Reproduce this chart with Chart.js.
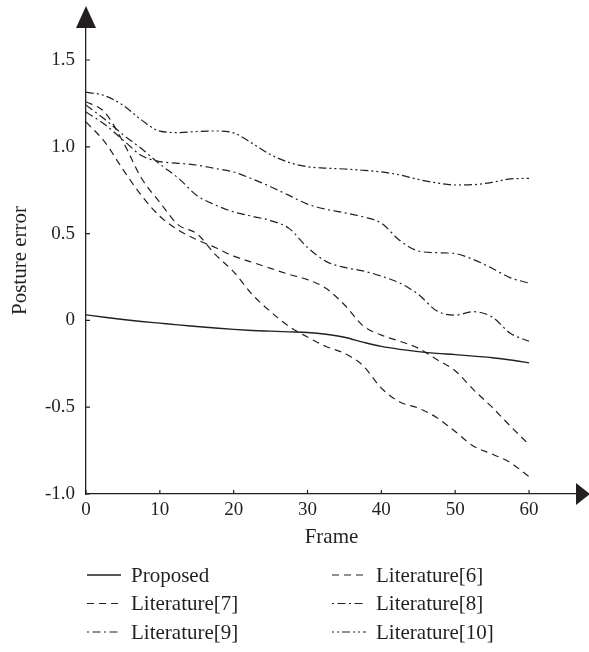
<!DOCTYPE html>
<html><head><meta charset="utf-8">
<script src="https://cdn.jsdelivr.net/npm/chart.js@4.4.0/dist/chart.umd.min.js"></script>
<style>html,body{margin:0;padding:0;background:#fff;}#wrap{width:589px;height:652px;}</style>
</head><body><div id="wrap"><canvas id="c" width="589" height="652"></canvas></div>
<script>
const frames = [0,2.5,5,7.5,10,12.5,15,17.5,20,22.5,25,27.5,30,32.5,35,37.5,40,42.5,45,47.5,50,52.5,55,57.5,60];
const proposed = [0.032,0.018,0.005,-0.006,-0.016,-0.026,-0.035,-0.044,-0.052,-0.058,-0.062,-0.066,-0.070,-0.080,-0.097,-0.125,-0.150,-0.167,-0.180,-0.190,-0.197,-0.206,-0.215,-0.228,-0.245];
const lit6 = [1.26,1.20,1.03,0.82,0.68,0.55,0.50,0.38,0.28,0.15,0.05,-0.035,-0.096,-0.15,-0.19,-0.26,-0.39,-0.47,-0.505,-0.56,-0.64,-0.725,-0.77,-0.82,-0.90];
const lit7 = [1.143,1.03,0.87,0.72,0.60,0.52,0.465,0.42,0.37,0.335,0.30,0.265,0.235,0.185,0.09,-0.03,-0.085,-0.12,-0.16,-0.225,-0.29,-0.40,-0.50,-0.61,-0.715];
const lit8 = [1.24,1.16,1.07,0.99,0.90,0.82,0.72,0.665,0.625,0.60,0.575,0.53,0.42,0.34,0.305,0.285,0.255,0.215,0.15,0.055,0.03,0.05,0.02,-0.075,-0.12];
const lit9 = [1.20,1.13,1.04,0.95,0.915,0.905,0.895,0.875,0.855,0.815,0.77,0.72,0.67,0.64,0.62,0.597,0.56,0.46,0.40,0.39,0.385,0.35,0.30,0.245,0.215];
const lit10 = [1.315,1.295,1.24,1.155,1.09,1.082,1.088,1.091,1.08,1.02,0.955,0.91,0.885,0.877,0.872,0.865,0.855,0.838,0.812,0.792,0.78,0.782,0.795,0.815,0.818];
const seriesNames = ['Proposed','Literature[6]','Literature[7]','Literature[8]','Literature[9]','Literature[10]'];
const xTicks = [0,10,20,30,40,50,60];
const yTicks = [-1.0,-0.5,0,0.5,1.0,1.5];
const yTickLabels = ['-1.0','-0.5','0','0.5','1.0','1.5'];

const INK = '#231f20';
const FONT = 'Liberation Serif';
const pts = arr => frames.map((f,i)=>({x:f,y:arr[i]}));
const dashes = [[], [7,5], [7,5], [8,3.5,2,3.5], [8,3.5,2,3.5], [8,3,2,3,2,3]];
const legendDashOffset = [0, 0, 0, 11.5, 11.5, 11];
const allSeries = [proposed, lit6, lit7, lit8, lit9, lit10];

const datasets = allSeries.map((arr,i)=>({
  label: seriesNames[i],
  data: pts(arr),
  borderColor: INK,
  borderWidth: i===0 ? 1.4 : 1.2,
  borderDash: dashes[i],
  pointRadius: 0,
  fill: false,
  cubicInterpolationMode: 'monotone'
}));

const decor = {
  id: 'decor',
  afterDraw(chart){
    const ctx = chart.ctx, xs = chart.scales.x, ys = chart.scales.y, ca = chart.chartArea;
    ctx.save();
    ctx.strokeStyle = INK; ctx.fillStyle = INK; ctx.lineWidth = 1.2; ctx.setLineDash([]);
    ctx.beginPath();
    xs.ticks.forEach(t=>{const p = xs.getPixelForValue(t.value); ctx.moveTo(p, ca.bottom); ctx.lineTo(p, ca.bottom-4);});
    ys.ticks.forEach(t=>{const p = ys.getPixelForValue(t.value); ctx.moveTo(ca.left, p); ctx.lineTo(ca.left+4, p);});
    ctx.stroke();
    // arrows
    ctx.beginPath(); ctx.moveTo(ca.left, ca.top-21); ctx.lineTo(ca.left-10, ca.top+1); ctx.lineTo(ca.left+10, ca.top+1); ctx.closePath(); ctx.fill();
    ctx.beginPath(); ctx.moveTo(ca.right+13, ca.bottom); ctx.lineTo(ca.right-1, ca.bottom-11); ctx.lineTo(ca.right-1, ca.bottom+11); ctx.closePath(); ctx.fill();
    // legend
    const cols = [87, 332], rows = [575, 603.5, 632];
    ctx.font = '21px "' + FONT + '"';
    ctx.textBaseline = 'middle'; ctx.textAlign = 'left';
    chart.data.datasets.forEach((ds,i)=>{
      const cx = cols[i%2], cy = rows[Math.floor(i/2)];
      ctx.lineWidth = ds.borderWidth; ctx.setLineDash(ds.borderDash);
      ctx.lineDashOffset = legendDashOffset[i];
      ctx.beginPath(); ctx.moveTo(cx, cy); ctx.lineTo(cx+34, cy); ctx.stroke();
      ctx.setLineDash([]); ctx.lineDashOffset = 0;
      ctx.fillText(ds.label, cx+44, cy+1);
    });
    ctx.restore();
  }
};

new Chart(document.getElementById('c'), {
  type: 'line',
  data: { datasets },
  options: {
    responsive: false, animation: false, devicePixelRatio: 1,
    layout: { padding: { top: 27, right: 12, left: 0, bottom: 0 } },
    plugins: { legend: { display: false }, tooltip: { enabled: false } },
    scales: {
      x: {
        type: 'linear', min: 0, max: 66.5,
        afterBuildTicks: s => { s.ticks = xTicks.map(v=>({value:v})); },
        afterFit: s => { s.height = 158; },
        grid: { display: false, drawTicks: false },
        border: { display: true, color: INK, width: 1.3 },
        ticks: { color: INK, font: { family: FONT, size: 19 }, padding: 5, maxRotation: 0, callback: v => String(v) },
        title: { display: true, text: 'Frame', color: INK, font: { family: FONT, size: 21 }, padding: { top: 0, bottom: 102 } }
      },
      y: {
        type: 'linear', min: -1.0, max: 1.69,
        afterBuildTicks: s => { s.ticks = yTicks.map(v=>({value:v})); },
        afterFit: s => { s.width = 86; },
        grid: { display: false, drawTicks: false },
        border: { display: true, color: INK, width: 1.3 },
        ticks: { color: INK, font: { family: FONT, size: 19 }, padding: 11, callback: (v,i) => yTickLabels[i] },
        title: { display: true, text: 'Posture error', color: INK, font: { family: FONT, size: 21 }, padding: { top: 8, bottom: 0 } }
      }
    }
  },
  plugins: [decor]
});
</script></body></html>
